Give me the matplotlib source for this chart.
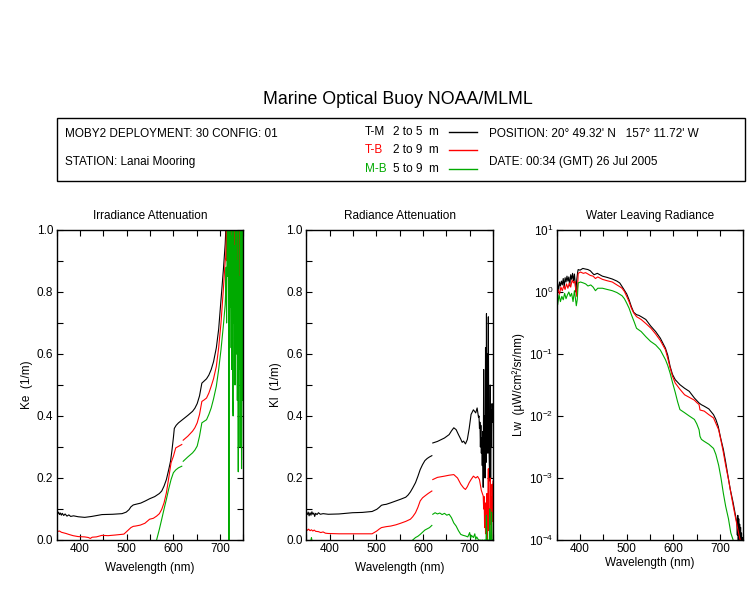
import matplotlib
matplotlib.use('Agg')
import matplotlib.pyplot as plt
import numpy as np
from matplotlib.patches import Rectangle
from matplotlib.lines import Line2D
from matplotlib.ticker import MultipleLocator, LogLocator, NullLocator

plt.rcParams['font.family'] = ['Liberation Sans', 'DejaVu Sans']
plt.rcParams['mathtext.fontset'] = 'custom'
plt.rcParams['mathtext.rm'] = 'Liberation Sans'
plt.rcParams['font.size'] = 8.5

nan = np.nan
GREEN = '#00aa00'

# ---------- Irradiance attenuation Ke (1/m) ----------
ke_tm_wl = [350, 352, 354, 356, 358, 360, 362, 365, 368, 372, 376, 380, 386, 396, 410, 425, 447, 470, 490, 499,
            505, 509, 514, 519, 530, 540, 549, 560, 570, 575, 580, 585, 590, 594, 597, 600, 602, 606, 611, 616,
            621, 631, 641, 646, 651, 656, 661, 666, 671, 676, 681, 686, 692, 697, 702, 707, 711]
ke_tm = [0.088, 0.084, 0.090, 0.082, 0.087, 0.080, 0.086, 0.079, 0.084, 0.077, 0.081, 0.076, 0.078, 0.075, 0.073,
         0.076, 0.082, 0.083, 0.085, 0.090, 0.098, 0.107, 0.113, 0.115, 0.119, 0.126, 0.133, 0.140, 0.150, 0.158,
         0.174, 0.195, 0.227, 0.255, 0.290, 0.330, 0.360, 0.370, 0.378, 0.384, 0.390, 0.402, 0.415, 0.425, 0.440,
         0.465, 0.506, 0.513, 0.520, 0.532, 0.550, 0.575, 0.620, 0.680, 0.775, 0.870, 0.955]
ke_tm_tail = [0.99, 1.05, 1.02, 0.97, 1.08, 1.03, 1.10, 1.04, 1.06, 1.02,
              1.08, 1.05, 1.03, 1.09, 1.04, 1.07, 1.02, 1.06, 1.10, 1.03,
              1.05, 1.08, 1.02, 1.06, 1.04, 1.09, 1.03, 1.07, 1.02, 0.96,
              1.05, 1.08, 0.98, 1.04, 1.06, 1.02, 1.08, 1.03, 1.05]

ke_tb_wl = [350, 353, 356, 360, 365, 370, 376, 385, 396, 410, 418, 422, 426, 435, 447, 460, 475, 488, 494, 499,
            504, 509, 514, 519, 529, 539, 549, 557, 564, 570, 575, 580, 585, 590, 595, 600, 605, 612, 618, nan,
            621, 631, 641, 646, 651, 656, 661, 666, 671, 676, 681, 686, 692, 697, 702, 707, 711]
ke_tb = [0.030, 0.028, 0.029, 0.025, 0.023, 0.021, 0.018, 0.014, 0.011, 0.010, 0.008, 0.005, 0.009, 0.010, 0.015,
         0.014, 0.016, 0.018, 0.019, 0.026, 0.033, 0.040, 0.044, 0.045, 0.048, 0.054, 0.067, 0.070, 0.077, 0.085,
         0.099, 0.120, 0.152, 0.200, 0.249, 0.270, 0.297, 0.303, 0.308, nan, 0.322, 0.335, 0.351, 0.362, 0.378,
         0.405, 0.447, 0.452, 0.458, 0.474, 0.496, 0.520, 0.560, 0.620, 0.700, 0.807, 0.900]
ke_tb_tail = [0.91, 0.96, 1.05, 0.90, 1.05, 0.88, 1.05, 1.00, 1.05, 0.95,
              1.05, 0.92, 1.05, 1.00, 1.05, 0.82, 1.05, 0.95, 1.05, 0.88,
              1.05, 0.97, 1.05, 0.75, 1.05, 0.60, 0.85, 1.05, 0.90, 1.05,
              0.70, 1.05, 0.92, 1.05, 0.85, 1.05, 0.95, 1.05, 1.05]

ke_mb_wl = [564, 570, 575, 580, 585, 590, 595, 600, 605, 611, 618, nan, 621, 631, 641, 646, 651, 656, 661, 666,
            671, 676, 681, 686, 692, 697, 702, 707, 711]
ke_mb = [0.0, 0.035, 0.067, 0.100, 0.131, 0.165, 0.195, 0.217, 0.226, 0.233, 0.238, nan, 0.254, 0.268, 0.281,
         0.290, 0.303, 0.335, 0.378, 0.383, 0.388, 0.405, 0.426, 0.455, 0.496, 0.550, 0.614, 0.690, 0.760]
ke_mb_tail = [0.80, 0.88, 0.70, 0.95, 1.05, 0.85, 1.05, -0.05, 1.05, 0.62,
              1.05, 0.75, 0.98, 0.55, 1.05, 0.45, 0.40, 1.05, 0.70, 0.95,
              0.50, 1.05, 0.80, 0.60, 1.05, 0.45, 0.90, 0.22, 1.05, 0.55,
              0.85, 0.30, 1.05, 0.65, 0.23, 1.05, 0.45, 0.95, 0.26]
ke_tail_start = 712

# ---------- Radiance attenuation Kl (1/m) ----------
kl_tm_wl = [350, 352, 354, 356, 358, 360, 362, 364, 366, 368, 370, 373, 376, 380, 386, 397, 420, 449, 470, 491,
            501, 506, 511, 516, 521, 531, 542, 553, 563, 568, 573, 578, 584, 589, 594, 599, 604, 609, 614, 619,
            nan, 621, 631, 646, 656, 661, 666, 671, 676, 681, 684, 687, 691, 695, 699, 703, 708, 713, 716, 719]
kl_tm = [0.086, 0.082, 0.090, 0.078, 0.088, 0.080, 0.091, 0.083, 0.087, 0.076, 0.086, 0.082, 0.088, 0.083, 0.085,
         0.083, 0.084, 0.088, 0.089, 0.092, 0.099, 0.105, 0.112, 0.114, 0.115, 0.120, 0.126, 0.132, 0.138, 0.145,
         0.155, 0.168, 0.185, 0.205, 0.227, 0.243, 0.256, 0.263, 0.268, 0.272, nan, 0.313, 0.318, 0.329, 0.340,
         0.352, 0.362, 0.356, 0.340, 0.325, 0.315, 0.319, 0.310, 0.324, 0.360, 0.405, 0.420, 0.410, 0.426, 0.395]
kl_tm_tail = [0.40, 0.36, 0.38, 0.30, 0.37, 0.28, 0.33, 0.24, 0.35, 0.17,
              0.55, 0.22, 0.40, 0.20, 0.62, 0.25, 0.73, 0.30, 0.60, 0.28,
              0.72, 0.35, 0.25, 0.19, 0.50, 0.20, 0.42, 0.30, 0.44, 0.38,
              0.43]
kl_tm_start = 720

kl_tb_wl = [350, 352, 355, 358, 361, 364, 367, 370, 376, 381, 386, 391, 397, 420, 449, 470, 491, 501, 506, 511,
            521, 531, 542, 552, 563, 573, 578, 584, 589, 594, 599, 604, 611, 619, nan, 621, 631, 646, 656, 666,
            674, 681, 687, 691, 695, 699, 703, 708, 713, 717, 721, 725, 729]
kl_tb = [0.036, 0.031, 0.035, 0.030, 0.033, 0.029, 0.032, 0.028, 0.027, 0.024, 0.026, 0.022, 0.021, 0.020, 0.020,
         0.020, 0.020, 0.029, 0.035, 0.040, 0.043, 0.045, 0.049, 0.054, 0.060, 0.067, 0.075, 0.088, 0.105, 0.126,
         0.136, 0.142, 0.150, 0.158, nan, 0.195, 0.202, 0.206, 0.209, 0.211, 0.200, 0.180, 0.168, 0.163, 0.172,
         0.185, 0.195, 0.206, 0.200, 0.205, 0.195, 0.160, 0.142]
kl_tb_tail = [0.10, 0.14, 0.04, 0.12, 0.02, 0.10, 0.06, 0.15, 0.00, 0.12,
              0.23, 0.03, 0.10, 0.00, 0.20, 0.05, 0.14, 0.00, 0.18, 0.06,
              0.19]
kl_tb_start = 730

kl_mb_wl = [359, 361, 363, nan, 578, 584, 589, 594, 599, 604, 609, 614, 619, nan, 621, 626, 631, 636, 641, 646,
            651, 656, 661, 666, 671, 676, 681, 686, 691, 696, 700, 702, 704, 708, 711, 713, 715, 719]
kl_mb = [-0.01, 0.008, -0.01, nan, 0.0, 0.008, 0.012, 0.018, 0.025, 0.032, 0.036, 0.040, 0.047, nan, 0.083, 0.088,
         0.084, 0.087, 0.082, 0.086, 0.080, 0.083, 0.072, 0.055, 0.045, 0.030, 0.018, 0.015, 0.013, 0.010, 0.024,
         0.006, 0.015, 0.008, 0.020, 0.002, 0.010, 0.0]
kl_mb_tail = [-0.01, 0.0, -0.01, 0.0, -0.01, -0.01, 0.0, -0.01, 0.0, -0.01,
              -0.01, 0.0, -0.01, 0.0, -0.01, -0.01, 0.08, -0.01, 0.0, -0.01,
              -0.01, 0.0, -0.01, 0.10, -0.01, 0.0, -0.01, 0.09, -0.01, 0.0,
              -0.01]
kl_mb_start = 720

# ---------- Water leaving radiance Lw (uW/cm2/sr/nm) ----------
lw_tm_wl = [350, 352, 354, 356, 358, 360, 362, 364, 366, 368, 370, 372, 374, 376, 378, 380, 382, 384, 386, 388,
            390, 391, 393, 395, 396, 400, 406, 411, 417, 422, 427, 430, 437, 448, 458, 469, 479, 485, 489, 494,
            500, 505, 510, 515, 521, 526, 531, 541, 551, 562, 572, 583, 588, 593, 598, 604, 614, 624, 634, 645,
            655, 660, 666, 676, 686, 691, 696, 701, 707, 712, 717, 722, 728, 733, 736]
lw_tm = [1.15, 1.35, 1.05, 1.45, 1.25, 1.50, 1.30, 1.65, 1.20, 1.70, 1.45, 1.80, 1.50, 1.75, 1.25, 1.90, 1.60, 2.00,
         1.50, 1.95, 1.30, 1.00, 1.60, 2.10, 2.30, 2.25, 2.40, 2.35, 2.30, 2.20, 2.00, 1.90, 2.00, 1.80, 1.72, 1.62,
         1.50, 1.40, 1.26, 1.10, 0.93, 0.75, 0.58, 0.47, 0.43, 0.42, 0.40, 0.36, 0.285, 0.23, 0.18, 0.124, 0.095,
         0.063, 0.047, 0.0385, 0.032, 0.028, 0.025, 0.0195, 0.0162, 0.0152, 0.0144, 0.013, 0.0105, 0.0088, 0.0068,
         0.0045, 0.0029, 0.0018, 0.00107, 0.00065, 0.0004, 0.00025, 0.00019]
lw_tm_tail = [1.2e-4, 2.5e-4, 1.0e-4, 2.2e-4, 0.8e-4, 1.8e-4, 0.9e-4, 1.6e-4, 0.7e-4, 1.3e-4,
              0.6e-4, 1.1e-4, 0.5e-4, 0.8e-4]
lw_tm_start = 737

lw_tb_wl = [350, 353, 356, 359, 362, 365, 368, 371, 374, 377, 380, 383, 386, 389, 391, 393, 395, 396, 401, 407,
            412, 417, 422, 428, 433, 438, 448, 458, 469, 479, 485, 490, 495, 500, 505, 510, 515, 521, 526, 531,
            541, 552, 562, 572, 583, 588, 593, 598, 604, 614, 624, 634, 645, 650, 655, 657, 666, 676, 686, 691,
            697, 702, 707, 712, 718, 723, 728, 733, 738, 743]
lw_tb = [0.95, 1.10, 0.92, 1.20, 1.05, 1.25, 1.10, 1.35, 1.15, 1.40, 1.20, 1.55, 1.40, 1.50, 1.05, 0.85, 1.30, 2.00,
         2.10, 2.00, 2.05, 1.95, 1.85, 1.80, 1.65, 1.75, 1.60, 1.52, 1.45, 1.30, 1.22, 1.15, 1.02, 0.85, 0.70, 0.55,
         0.46, 0.40, 0.38, 0.36, 0.31, 0.26, 0.21, 0.165, 0.117, 0.085, 0.06, 0.044, 0.034, 0.027, 0.022, 0.020,
         0.018, 0.0165, 0.0153, 0.0125, 0.012, 0.0105, 0.0093, 0.0076, 0.006, 0.0040, 0.0026, 0.0016, 0.00095,
         0.00058, 0.00036, 0.00023, 0.00015, 0.0001]

lw_mb_wl = [350, 352, 355, 358, 361, 364, 367, 370, 373, 376, 379, 382, 385, 388, 390, 392, 394, 396, 401, 407,
            412, 417, 423, 428, 433, 438, 448, 458, 469, 479, 490, 495, 500, 505, 510, 516, 521, 531, 541, 551,
            562, 572, 583, 588, 593, 598, 604, 609, 614, 624, 634, 645, 650, 655, 657, 660, 666, 676, 686, 691,
            697, 702, 707, 712, 718, 723, 728]
lw_mb = [0.75, 0.62, 0.90, 0.70, 0.85, 0.75, 0.95, 0.78, 0.90, 1.00, 0.85, 0.95, 0.70, 1.05, 0.80, 0.60, 0.75, 1.40,
         1.45, 1.40, 1.35, 1.25, 1.30, 1.20, 1.05, 1.15, 1.15, 1.10, 1.05, 0.98, 0.87, 0.78, 0.66, 0.55, 0.43, 0.33,
         0.26, 0.23, 0.19, 0.16, 0.14, 0.116, 0.081, 0.065, 0.049, 0.035, 0.024, 0.017, 0.0127, 0.0113, 0.010,
         0.0088, 0.0075, 0.006, 0.0047, 0.0042, 0.0039, 0.0035, 0.003, 0.0024, 0.0016, 0.0010, 0.00057, 0.00035,
         0.00022, 0.00013, 0.0001]


def join(wl, vals, tail, start):
    w = list(wl) + list(range(start, start + len(tail)))
    return w, list(vals) + list(tail)


fig = plt.figure(figsize=(7.5, 6), dpi=100)
W, H = 750.0, 600.0


def fx(px):
    return px / W


def fy(py):
    return 1 - py / H


# title and info box
fig.text(fx(398), fy(100), 'Marine Optical Buoy NOAA/MLML', ha='center', va='center', fontsize=12.8)
fig.add_artist(Rectangle((fx(57), fy(181)), fx(745 - 57), (181 - 118) / H, transform=fig.transFigure,
                         fill=False, edgecolor='black', lw=1))
fig.text(fx(65), fy(134), 'MOBY2 DEPLOYMENT: 30 CONFIG: 01', va='center')
fig.text(fx(65), fy(162), 'STATION: Lanai Mooring', va='center')
fig.text(fx(489), fy(134), "POSITION: 20\u00b0 49.32' N   157\u00b0 11.72' W", va='center')
fig.text(fx(489), fy(162), 'DATE: 00:34 (GMT) 26 Jul 2005', va='center')

leg_rows = [('T-M', '2 to 5  m', 'black', 132), ('T-B', '2 to 9  m', 'red', 150), ('M-B', '5 to 9  m', GREEN, 169)]
for name, depth, col, yy in leg_rows:
    fig.text(fx(365), fy(yy), name, color=col, va='center')
    fig.text(fx(393), fy(yy), depth, va='center')
    fig.add_artist(Line2D([fx(449), fx(477)], [fy(yy), fy(yy)], color=col, lw=1, transform=fig.transFigure))

lefts = [56.7, 306.3, 556.7]
axes = [fig.add_axes([fx(l), fy(540), fx(186.7), 310 / H]) for l in lefts]
titles = ['Irradiance Attenuation', 'Radiance Attenuation', 'Water Leaving Radiance']
ylabels = ['Ke  (1/m)', 'Kl  (1/m)', 'Lw  (\u00b5W/cm\u00b2/sr/nm)']

a1, a2, a3 = axes
lw = 0.8
w, v = join(ke_tm_wl, ke_tm, ke_tm_tail, ke_tail_start)
a1.plot(w, v, color='black', lw=lw)
w, v = join(ke_tb_wl, ke_tb, ke_tb_tail, ke_tail_start)
a1.plot(w, v, color='red', lw=lw)
w, v = join(ke_mb_wl, ke_mb, ke_mb_tail, ke_tail_start)
a1.plot(w, v, color=GREEN, lw=lw)

w, v = join(kl_tm_wl, kl_tm, kl_tm_tail, kl_tm_start)
a2.plot(w, v, color='black', lw=lw)
w, v = join(kl_tb_wl, kl_tb, kl_tb_tail, kl_tb_start)
a2.plot(w, v, color='red', lw=lw)
w, v = join(kl_mb_wl, kl_mb, kl_mb_tail, kl_mb_start)
a2.plot(w, v, color=GREEN, lw=lw)

w, v = join(lw_tm_wl, lw_tm, lw_tm_tail, lw_tm_start)
a3.plot(w, v, color='black', lw=lw)
a3.plot(lw_tb_wl, lw_tb, color='red', lw=lw)
a3.plot(lw_mb_wl, lw_mb, color=GREEN, lw=lw)
a3.set_yscale('log')

for i, ax in enumerate(axes):
    ax.set_xlim(350, 750)
    ax.xaxis.set_major_locator(MultipleLocator(100))
    ax.xaxis.set_minor_locator(MultipleLocator(50))
    if i < 2:
        ax.set_ylim(0, 1)
        ax.yaxis.set_major_locator(MultipleLocator(0.2))
        ax.yaxis.set_minor_locator(MultipleLocator(0.1))
        ax.yaxis.set_major_formatter(plt.FormatStrFormatter('%.1f'))
    else:
        ax.set_ylim(1e-4, 10)
        ax.yaxis.set_major_locator(LogLocator(base=10, numticks=10))
        ax.yaxis.set_minor_locator(NullLocator())
    ax.tick_params(which='both', direction='in', top=True, right=True, length=4.5, width=0.8, pad=2.5,
                   labelsize=8.5)
    for s in ax.spines.values():
        s.set_linewidth(1)
    ax.set_title(titles[i], fontsize=8.5, pad=8)
    ax.set_ylabel(ylabels[i], labelpad=3)
    ax.set_xlabel('Wavelength (nm)', labelpad=1 if i == 2 else 5)

fig.savefig('out.png', dpi=100)
